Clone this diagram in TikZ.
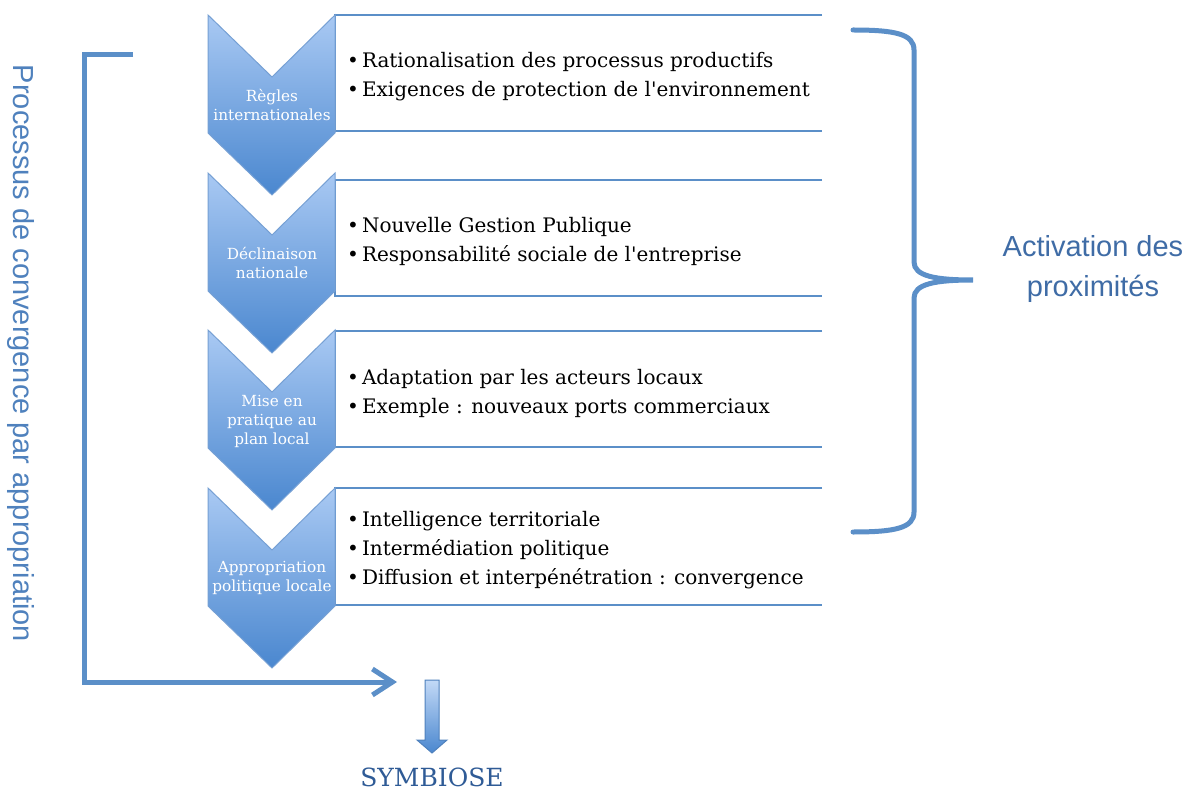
\documentclass[tikz,border=0pt]{standalone}
\usepackage{fontspec}
\setmainfont{DejaVu Serif}[Ligatures=TeXOff]
\newfontfamily\sansf{Liberation Sans}
\usetikzlibrary{arrows.meta}
\definecolor{lineblue}{HTML}{5B8FC8}
\definecolor{chevtop}{HTML}{A9C9F3}
\definecolor{chevbot}{HTML}{4A87CF}
\definecolor{chevborder}{HTML}{76A0D4}
\definecolor{labelblue}{HTML}{3F6CA6}
\definecolor{sideblue}{HTML}{4F81BD}
\definecolor{symblue}{HTML}{2F5B96}
\newcommand{\bul}{•\hspace{3pt}}
\tikzset{
  chev/.style={draw=chevborder, line width=1pt, top color=chevtop, bottom color=chevbot, line join=miter},
  chevtext/.style={text=white, align=center, inner sep=0pt, font=\fontsize{15.3}{19}\selectfont},
  boxline/.style={draw=lineblue, line width=1.4pt},
  boxtext/.style={anchor=west, align=left, inner sep=0pt, font=\fontsize{20}{29}\selectfont},
  thickblue/.style={draw=lineblue, line width=5pt},
}
\begin{document}
\begin{tikzpicture}[x=1pt,y=-1pt]
\useasboundingbox (0,0) rectangle (1190,791);
\fill[white] (0,0) rectangle (1190,791);

% boxes
\foreach \t/\b in {15/131,180/296,331/447,488/605}{
  \draw[boxline] (822,\t) -- (335,\t) -- (335,\b) -- (822,\b);
}
% chevrons
\foreach \t in {15,173,330,488}{
  \draw[chev] (208,\t) -- (272,\t+62) -- (335,\t) -- (335,\t+118) -- (272,\t+180) -- (208,\t+118) -- cycle;
}
\node[chevtext] (c1) at (272,105) {Règles\\internationales};
\node[chevtext] (c2) at (272,263) {Déclinaison\\nationale};
\node[chevtext] (c3) at (272,421) {Mise en\\pratique au\\plan local};
\node[chevtext] (c4) at (272,578) {Appropriation\\politique locale};

\node[boxtext] (b1) at (347,77) {\bul Rationalisation des processus productifs\\\bul Exigences de protection de l'environnement};
\node[boxtext] (b2) at (347,241) {\bul Nouvelle Gestion Publique\\\bul Responsabilité sociale de l'entreprise};
\node[boxtext] (b3) at (347,393) {\bul Adaptation par les acteurs locaux\\\bul Exemple : nouveaux ports commerciaux};
\node[boxtext] (b4) at (347,550) {\bul Intelligence territoriale\\\bul Intermédiation politique\\\bul Diffusion et interpénétration : convergence};

% brace
\draw[thickblue, line cap=round] (853,30) .. controls (895,30) and (914,34) .. (914,50) -- (914,262)
  .. controls (914,276) and (935,280) .. (973,280)
  .. controls (935,280) and (914,284) .. (914,298) -- (914,512)
  .. controls (914,528) and (895,532) .. (853,532);
\node[font=\sansf\fontsize{29}{40}\selectfont, text=labelblue, align=center, inner sep=0pt] (act) at (1093,269) {Activation des\\proximités};

% left bracket arrow
\coordinate (lb1) at (133,55);
\coordinate (lb2) at (84,55);
\coordinate (lb3) at (84,682);
\coordinate (lb4) at (397,682);
\draw[thickblue, line join=miter, -{Straight Barb[length=20pt,width=26pt]}] (lb1) -- (lb2) -- (lb3) -- (lb4);
\node[font=\sansf\fontsize{29}{34}\selectfont, text=sideblue, rotate=-90, inner sep=0pt] (side) at (20.5,353.5) {Processus de convergence par appropriation};

% symbiose arrow
\draw[draw=sideblue, line width=1pt, top color=chevtop!70!white, bottom color=chevbot] (425,680) -- (439,680) -- (439,740) -- (447,740) -- (432,753) -- (417,740) -- (425,740) -- cycle;
\node[font=\fontsize{25}{28}\selectfont, text=symblue, anchor=base, inner sep=0pt] (sym) at (432,786) {SYMBIOSE};
\end{tikzpicture}
\end{document}
